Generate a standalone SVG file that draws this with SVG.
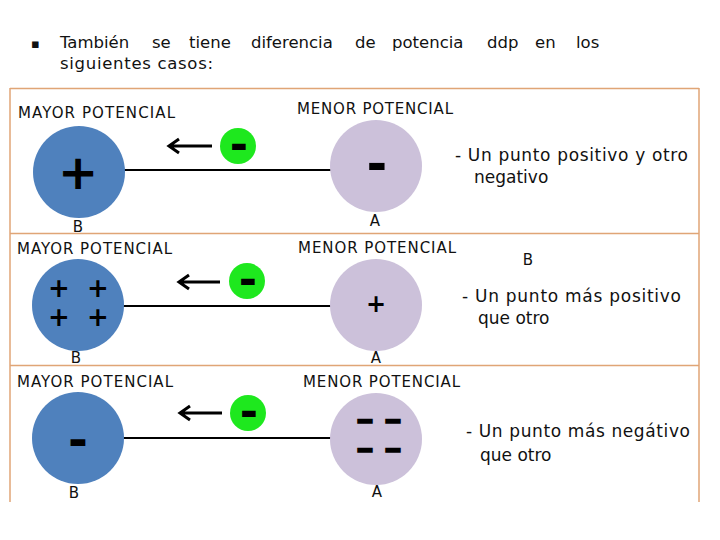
<svg xmlns="http://www.w3.org/2000/svg" width="720" height="540" viewBox="0 0 720 540">
<style>
.t{font-family:"DejaVu Sans","Verdana",sans-serif;fill:#111}
.lab{font-size:15px}
.desc{font-size:17px}
.hdr{font-size:16.5px}
.blue{fill:#4F81BD}
.purp{fill:#CCC1DA}
.green{fill:#1EE81E}
.sign{font-family:"DejaVu Sans",sans-serif;font-weight:bold;fill:#000;text-anchor:middle}
.dash{font-size:24px;stroke:#000;stroke-width:1.5}
.border{stroke:#E0A576;stroke-width:1.5;fill:none}
.wire{stroke:#000;stroke-width:2.2;fill:none}
.arr{stroke:#000;stroke-width:3;fill:none;stroke-linecap:butt}
</style>
<rect width="720" height="540" fill="#fff"/>
<g id="header">
<text class="t" x="31" y="48" font-size="13">▪</text>
<text class="t hdr" y="48"><tspan x="60">También</tspan><tspan x="152">se</tspan><tspan x="189">tiene</tspan><tspan x="251">diferencia</tspan><tspan x="355">de</tspan><tspan x="392">potencia</tspan><tspan x="487">ddp</tspan><tspan x="535">en</tspan><tspan x="576">los</tspan></text>
<text class="t hdr" x="60" y="69" textLength="153">siguientes casos:</text>
</g>
<g id="frame">
<line class="border" x1="10" y1="88.5" x2="699" y2="88.5"/>
<line class="border" x1="10" y1="88" x2="10" y2="502"/>
<line class="border" x1="699" y1="88" x2="699" y2="502"/>
<line class="border" x1="10" y1="233.5" x2="699" y2="233.5"/>
<line class="border" x1="10" y1="365.5" x2="699" y2="365.5"/>
</g>
<g id="connectors">
<line class="wire" x1="124" y1="170" x2="331" y2="170"/>
<line class="wire" x1="123" y1="306" x2="331" y2="306"/>
<line class="wire" x1="123" y1="438" x2="331" y2="438" stroke-width="3"/>
<path class="arr" d="M212 146H170M179 139L169 146L179 153"/>
<path class="arr" d="M220 282H180M189 275L179 282L189 289"/>
<path class="arr" d="M222 413H181M190 406L180 413L190 420"/>
</g>
<g id="panel1">
<g id="p1-B">
<text class="t lab" x="18" y="118" textLength="157">MAYOR POTENCIAL</text>
<circle class="blue" cx="79" cy="172" r="46"/>
<text class="sign" x="78" y="189" font-size="48">+</text>
<text class="t lab" x="78" y="232" text-anchor="middle">B</text>
</g>
<g id="p1-e">
<circle class="green" cx="238" cy="146" r="18"/>
<text class="sign" x="239" y="160" font-size="44">-</text>
</g>
<g id="p1-A">
<text class="t lab" x="297" y="114" textLength="156">MENOR POTENCIAL</text>
<circle class="purp" cx="376" cy="166" r="46"/>
<text class="sign" x="377" y="181" font-size="50">-</text>
<text class="t lab" x="375" y="226" text-anchor="middle">A</text>
</g>
<text class="t desc" x="455" y="161" textLength="233">- Un punto positivo y otro</text>
<text class="t desc" x="474" y="183">negativo</text>
</g>
<g id="panel2">
<g id="p2-B">
<text class="t lab" x="17" y="254" textLength="155">MAYOR POTENCIAL</text>
<circle class="blue" cx="78" cy="305" r="46"/>
<text class="sign" font-size="26"><tspan x="59" y="297">+</tspan><tspan x="98" y="297">+</tspan><tspan x="59" y="326">+</tspan><tspan x="98" y="326">+</tspan></text>
<text class="t lab" x="76" y="363" text-anchor="middle">B</text>
</g>
<g id="p2-e">
<circle class="green" cx="247" cy="281" r="18"/>
<text class="sign" x="248" y="295" font-size="44">-</text>
</g>
<g id="p2-A">
<text class="t lab" x="298" y="253" textLength="158">MENOR POTENCIAL</text>
<circle class="purp" cx="376" cy="305" r="46"/>
<text class="sign" x="376" y="312" font-size="24">+</text>
<text class="t lab" x="376" y="363" text-anchor="middle">A</text>
</g>
<text class="t lab" x="528" y="265" text-anchor="middle">B</text>
<text class="t desc" x="462" y="302" textLength="219">- Un punto más positivo</text>
<text class="t desc" x="478" y="324">que otro</text>
</g>
<g id="panel3">
<g id="p3-B">
<text class="t lab" x="17" y="387" textLength="156">MAYOR POTENCIAL</text>
<circle class="blue" cx="78" cy="438" r="46"/>
<text class="sign" x="78" y="456" font-size="48">-</text>
<text class="t lab" x="74" y="498" text-anchor="middle">B</text>
</g>
<g id="p3-e">
<circle class="green" cx="248" cy="413" r="18"/>
<text class="sign" x="249" y="427" font-size="44">-</text>
</g>
<g id="p3-A">
<text class="t lab" x="303" y="387" textLength="157">MENOR POTENCIAL</text>
<circle class="purp" cx="376" cy="439" r="46"/>
<text class="sign dash" transform="translate(365 428) scale(1.75 1)">-</text>
<text class="sign dash" transform="translate(393 428) scale(1.75 1)">-</text>
<text class="sign dash" transform="translate(365 457) scale(1.75 1)">-</text>
<text class="sign dash" transform="translate(393 457) scale(1.75 1)">-</text>
<text class="t lab" x="377" y="497" text-anchor="middle">A</text>
</g>
<text class="t desc" x="466" y="437" textLength="224">- Un punto más negátivo</text>
<text class="t desc" x="480" y="461">que otro</text>
</g>
</svg>
